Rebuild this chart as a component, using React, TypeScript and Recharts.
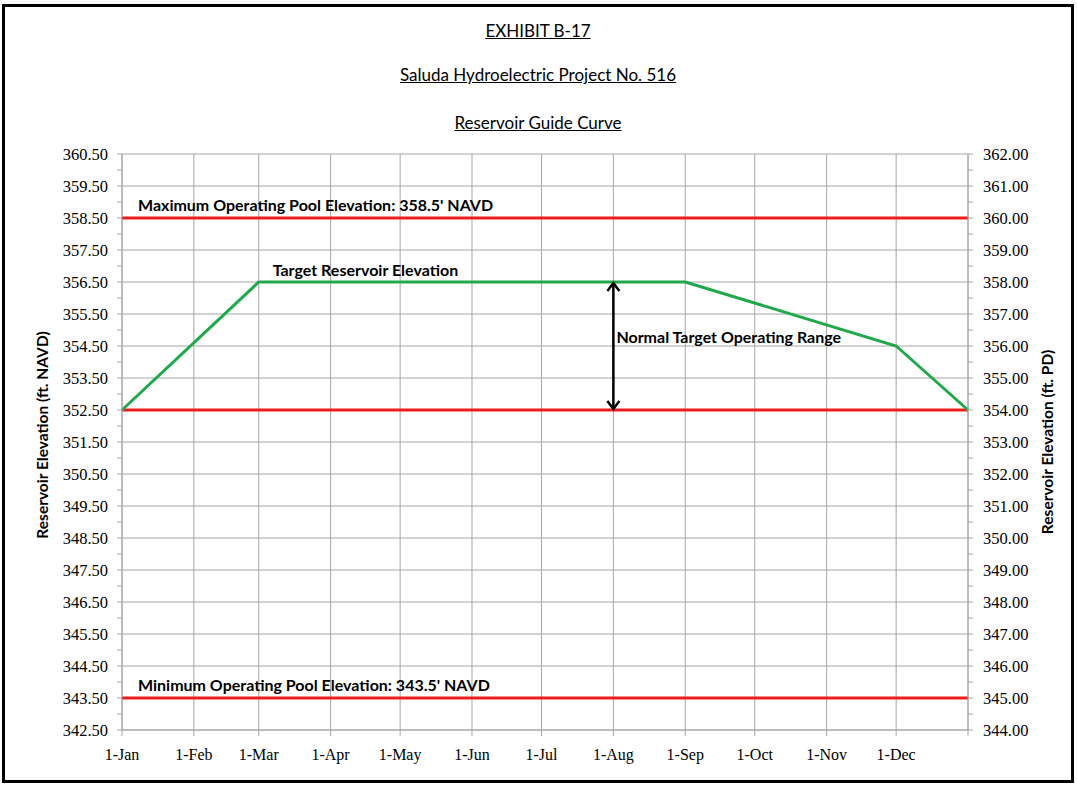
import { CartesianGrid, Line, LineChart, ReferenceDot, ReferenceLine, XAxis, YAxis } from "recharts";

// day-of-year positions of the guide curve break points
const GUIDE_DAYS = [0, 59, 243, 334, 365];
const GUIDE_ELEV = [352.5, 356.5, 356.5, 354.5, 352.5];

const MONTH_DAYS = [0, 31, 59, 90, 120, 151, 181, 212, 243, 273, 304, 334, 365];
const MONTH_LABELS = ["1-Jan", "1-Feb", "1-Mar", "1-Apr", "1-May", "1-Jun", "1-Jul", "1-Aug", "1-Sep", "1-Oct", "1-Nov", "1-Dec", ""];

const NAVD_TICKS = [342.5, 343.5, 344.5, 345.5, 346.5, 347.5, 348.5, 349.5, 350.5, 351.5, 352.5, 353.5, 354.5, 355.5, 356.5, 357.5, 358.5, 359.5, 360.5];
const PD_TICKS = [344, 345, 346, 347, 348, 349, 350, 351, 352, 353, 354, 355, 356, 357, 358, 359, 360, 361, 362];

const MAX_POOL = 358.5;
const MIN_POOL = 343.5;
const RANGE_LOW = 352.5;
const RANGE_HIGH = 356.5;
const RANGE_DAY = 212;
const TARGET_LABEL_DAY = 65;

const TITLES = ["EXHIBIT B-17", "Saluda Hydroelectric Project No. 516", "Reservoir Guide Curve"];

const GRID = "#a6a6a6";
const RED = "#ee1c1c";
const GREEN = "#22a84c";
const LABEL_FONT = "Lato, 'Open Sans', sans-serif";
const TICK_FONT = "'Liberation Serif', 'DejaVu Serif', serif";

const data = GUIDE_DAYS.map((day, i) => ({ day, elev: GUIDE_ELEV[i] }));
const withMinor = (major: number[]) =>
  major.flatMap((v, i) => (i < major.length - 1 ? [v, v + 0.5] : [v]));

const noteStyle = { fontFamily: LABEL_FONT, fontWeight: 700, fontSize: 16, fill: "#000" };

function Arrow(props: any) {
  const { x1, y1, x2, y2 } = props;
  const top = Math.min(y1, y2);
  const bot = Math.max(y1, y2);
  return (
    <g stroke="#000" strokeWidth={2.5} fill="none">
      <line x1={x1} y1={top + 1} x2={x2} y2={bot - 1} />
      <polyline points={`${x1 - 6},${top + 9} ${x1},${top + 1} ${x1 + 6},${top + 9}`} />
      <polyline points={`${x1 - 6},${bot - 9} ${x1},${bot - 1} ${x1 + 6},${bot - 9}`} />
    </g>
  );
}

export default function App() {
  return (
    <div style={{ position: "absolute", left: 0, top: 0, width: 1077, height: 786, background: "#fff" }}>
      <div
        style={{
          position: "absolute",
          left: 2,
          top: 4,
          width: 1072,
          height: 779,
          border: "3px solid #000",
          boxSizing: "border-box",
        }}
      />
      {TITLES.map((t, i) => (
        <div
          key={t}
          style={{
            position: "absolute",
            left: 0,
            width: 1076,
            top: [20, 64, 112][i],
            textAlign: "center",
            fontFamily: LABEL_FONT,
            fontSize: 17,
            textDecoration: "underline",
          }}
        >
          {t}
        </div>
      ))}
      <div style={{ position: "absolute", left: 0, top: 0 }}>
        <LineChart width={1077} height={786} data={data} margin={{ top: 154, right: 49, bottom: 26, left: 62 }}>
          <CartesianGrid horizontal={false} stroke={GRID} />
          {NAVD_TICKS.map((v) => (
            <ReferenceLine key={v} yAxisId="navd" y={v} stroke={GRID} />
          ))}
          <XAxis
            type="number"
            dataKey="day"
            domain={[0, 365]}
            ticks={MONTH_DAYS}
            tickFormatter={(v: number) => MONTH_LABELS[MONTH_DAYS.indexOf(v)]}
            height={30}
            stroke={GRID}
            tickSize={6}
            tickMargin={13}
            tick={{ fill: "#000", fontFamily: TICK_FONT, fontSize: 16 }}
          />
          <YAxis
            yAxisId="navd"
            domain={[342.5, 360.5]}
            ticks={withMinor(NAVD_TICKS)}
            interval={0}
            tickFormatter={(v: number) => (NAVD_TICKS.includes(v) ? v.toFixed(2) : "")}
            width={60}
            stroke={GRID}
            tickSize={5}
            tickMargin={9}
            tick={{ fill: "#000", fontFamily: TICK_FONT, fontSize: 16.5 }}
            label={{
              content: () => (
                <text transform="translate(48,435) rotate(-90)" textAnchor="middle" style={{ ...noteStyle, fontSize: 15.5 }}>
                  Reservoir Elevation (ft. NAVD)
                </text>
              ),
            }}
          />
          <YAxis
            yAxisId="pd"
            orientation="right"
            domain={[344, 362]}
            ticks={withMinor(PD_TICKS)}
            interval={0}
            tickFormatter={(v: number) => (PD_TICKS.includes(v) ? v.toFixed(2) : "")}
            width={60}
            stroke={GRID}
            tickSize={5}
            tickMargin={10}
            tick={{ fill: "#000", fontFamily: TICK_FONT, fontSize: 16.5 }}
            label={{
              content: () => (
                <text transform="translate(1053,442) rotate(-90)" textAnchor="middle" style={{ ...noteStyle, fontSize: 15.5 }}>
                  Reservoir Elevation (ft. PD)
                </text>
              ),
            }}
          />
          <ReferenceLine
            yAxisId="navd"
            y={MAX_POOL}
            stroke={RED}
            strokeWidth={3}
            label={{
              content: (p: any) => (
                <text x={p.viewBox.x + 16} y={p.viewBox.y - 7} style={noteStyle}>
                  Maximum Operating Pool Elevation: 358.5' NAVD
                </text>
              ),
            }}
          />
          <ReferenceLine yAxisId="navd" y={RANGE_LOW} stroke={RED} strokeWidth={3} />
          <ReferenceLine
            yAxisId="navd"
            y={MIN_POOL}
            stroke={RED}
            strokeWidth={3}
            label={{
              content: (p: any) => (
                <text x={p.viewBox.x + 16} y={p.viewBox.y - 7} style={noteStyle}>
                  Minimum Operating Pool Elevation: 343.5' NAVD
                </text>
              ),
            }}
          />
          {/* invisible copy on the PD axis so the right axis gets drawn */}
          <Line
            yAxisId="pd"
            type="linear"
            dataKey="elev"
            stroke="none"
            strokeWidth={0}
            dot={false}
            activeDot={false}
            isAnimationActive={false}
          />
          <Line
            yAxisId="navd"
            type="linear"
            dataKey="elev"
            stroke={GREEN}
            strokeWidth={3}
            dot={false}
            isAnimationActive={false}
          />
          <ReferenceLine
            yAxisId="navd"
            segment={[
              { x: RANGE_DAY, y: RANGE_HIGH },
              { x: RANGE_DAY, y: RANGE_LOW },
            ]}
            shape={Arrow}
            label={{
              content: (p: any) => (
                <text x={p.viewBox.x + 3} y={p.viewBox.y + 61} style={noteStyle}>
                  Normal Target Operating Range
                </text>
              ),
            }}
          />
          <ReferenceDot
            yAxisId="navd"
            x={TARGET_LABEL_DAY}
            y={RANGE_HIGH}
            r={0}
            stroke="none"
            fill="none"
            label={{
              content: (p: any) => (
                <text x={p.viewBox.x} y={p.viewBox.y - 6} style={noteStyle}>
                  Target Reservoir Elevation
                </text>
              ),
            }}
          />
        </LineChart>
      </div>
    </div>
  );
}
